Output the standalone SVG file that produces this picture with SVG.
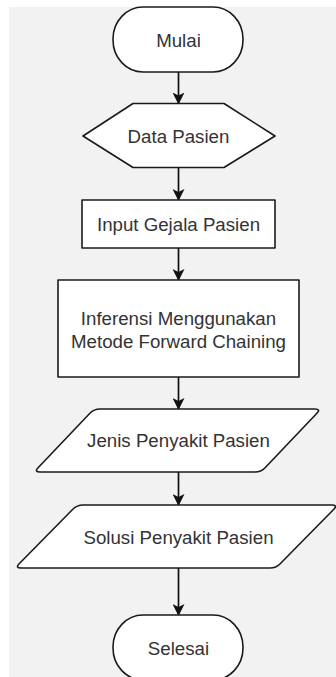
<svg xmlns="http://www.w3.org/2000/svg" width="336" height="677" viewBox="0 0 336 677">
<defs>
<style>
.shape{fill:#ffffff;stroke:#1a1a1a;stroke-width:1.6;stroke-linejoin:round}
.lbl{font-family:"Liberation Sans",Arial,sans-serif;font-size:18.7px;fill:#333333;text-anchor:middle}
.edge{stroke:#111111;stroke-width:1.7;fill:none}
</style>
<marker id="arr" viewBox="0 0 12 12" refX="11" refY="6" markerWidth="12" markerHeight="12" markerUnits="userSpaceOnUse" orient="auto">
<path d="M0,0 L12,6 L0,12 L3,6 Z" fill="#111111"/>
</marker>
</defs>
<rect x="0" y="0" width="336" height="677" fill="#ffffff"/>
<rect x="9" y="7" width="327" height="670" fill="#f2f2f2"/>
<g id="connectors">
<line class="edge" x1="178.5" y1="72" x2="178.5" y2="103.5" marker-end="url(#arr)"/>
<line class="edge" x1="178.5" y1="167.5" x2="178.5" y2="200" marker-end="url(#arr)"/>
<line class="edge" x1="178.5" y1="248" x2="178.5" y2="280" marker-end="url(#arr)"/>
<line class="edge" x1="178.5" y1="377" x2="178.5" y2="409" marker-end="url(#arr)"/>
<line class="edge" x1="178.5" y1="472" x2="178.5" y2="505" marker-end="url(#arr)"/>
<line class="edge" x1="178.5" y1="568" x2="178.5" y2="615" marker-end="url(#arr)"/>
</g>
<g id="mulai">
<rect class="shape" x="113" y="7" width="130" height="65" rx="30" ry="32"/>
<text class="lbl" x="178.5" y="46.5">Mulai</text>
</g>
<g id="data-pasien">
<polygon class="shape" points="83,136 133,103.5 224,103.5 275,136 224,167.5 133,167.5"/>
<text class="lbl" x="178.5" y="142.5">Data Pasien</text>
</g>
<g id="input-gejala">
<rect class="shape" x="82" y="200" width="193" height="48"/>
<text class="lbl" x="178.5" y="230.5">Input Gejala Pasien</text>
</g>
<g id="inferensi">
<rect class="shape" x="58" y="280" width="241" height="97"/>
<text class="lbl" x="178.5" y="324.5">Inferensi Menggunakan</text>
<text class="lbl" x="178.5" y="347.5">Metode Forward Chaining</text>
</g>
<g id="jenis-penyakit">
<path class="shape" d="M100,409 L315,409 Q321,409 316.9,413.3 L265.1,467.7 Q261,472 255,472 L40,472 Q34,472 38.1,467.7 L89.9,413.3 Q94,409 100,409 Z"/>
<text class="lbl" x="178.5" y="447">Jenis Penyakit Pasien</text>
</g>
<g id="solusi-penyakit">
<path class="shape" d="M83,505 L332,505 Q338,505 333.8,509.3 L280.2,563.7 Q276,568 270,568 L21,568 Q15,568 19.2,563.7 L72.8,509.3 Q77,505 83,505 Z"/>
<text class="lbl" x="178.5" y="543.5">Solusi Penyakit Pasien</text>
</g>
<g id="selesai">
<rect class="shape" x="113" y="615" width="130" height="65" rx="30" ry="32"/>
<text class="lbl" x="178.5" y="655">Selesai</text>
</g>
</svg>
